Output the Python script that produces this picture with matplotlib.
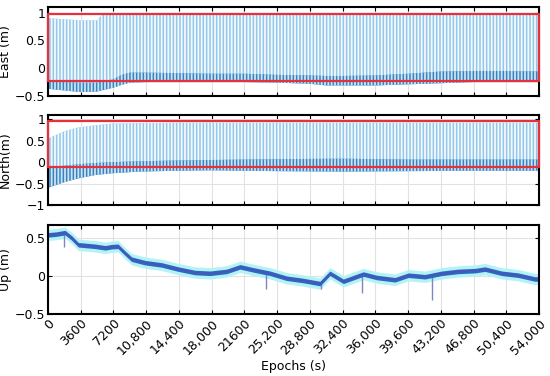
import matplotlib.pyplot as plt
import numpy as np

# ---- data ----
tick_pos = [0, 3600, 7200, 10800, 14400, 18000, 21600, 25200, 28800,
            32400, 36000, 39600, 43200, 46800, 50400, 54000]
tick_lab = ['0', '3600', '7200', '10,800', '14,400', '18,000', '21600', '25,200',
            '28,800', '32,400', '36,000', '39,600', '43,200', '46,800', '50,400', '54,000']

# East: envelope of the oscillation (top of spikes, bottom of spikes, top of dark band)
east_t = [0, 1800, 3600, 5400, 5900, 7200, 8100, 9000, 10800, 14400, 18000, 21600,
          25200, 28800, 30600, 32400, 36000, 39600, 43200, 46800, 50400, 54000]
east_hi = [0.90, 0.88, 0.86, 0.86, 0.96, 0.97, 0.97, 0.97, 0.97, 0.97, 0.97, 0.97,
           0.97, 0.97, 0.97, 0.97, 0.97, 0.97, 0.97, 0.97, 0.97, 0.97]
east_lo = [-0.37, -0.40, -0.43, -0.42, -0.40, -0.35, -0.30, -0.26, -0.25, -0.25, -0.25, -0.25,
           -0.26, -0.28, -0.31, -0.31, -0.31, -0.29, -0.27, -0.25, -0.25, -0.25]
east_dk = [-0.24, -0.25, -0.26, -0.26, -0.24, -0.20, -0.12, -0.08, -0.08, -0.09, -0.10, -0.10,
           -0.12, -0.13, -0.14, -0.14, -0.13, -0.10, -0.06, -0.05, -0.05, -0.06]
east_box = (-0.23, 0.97)

north_t = [0, 400, 1900, 3300, 5200, 7000, 10000, 14400, 18000, 25200, 32400,
           39600, 46800, 54000]
north_hi = [0.55, 0.59, 0.73, 0.81, 0.86, 0.90, 0.91, 0.92, 0.92, 0.92, 0.92,
            0.92, 0.92, 0.92]
north_lo = [-0.60, -0.57, -0.46, -0.38, -0.30, -0.26, -0.22, -0.20, -0.19, -0.21, -0.22,
            -0.21, -0.20, -0.20]
north_dk = [-0.12, -0.11, -0.08, -0.05, -0.02, 0.00, 0.02, 0.04, 0.05, 0.07, 0.08,
            0.06, 0.06, 0.06]
north_box = (-0.11, 0.97)

up_t = [0, 900, 1870, 2600, 3340, 5170, 6300, 7000, 7700, 8470, 9200, 10670, 12500,
        14330, 16170, 17820, 19650, 21120, 22580, 24420, 26250, 28080, 29920, 31010,
        32480, 34680, 36150, 38160, 39630, 41460, 43300, 45130, 46960, 48060, 49900,
        51720, 53560, 54000]
up_v = [0.54, 0.55, 0.57, 0.50, 0.41, 0.39, 0.37, 0.385, 0.39, 0.30, 0.22, 0.175, 0.145,
        0.09, 0.045, 0.035, 0.06, 0.12, 0.08, 0.035, -0.03, -0.06, -0.10, 0.035,
        -0.07, 0.025, -0.02, -0.05, 0.01, -0.01, 0.035, 0.06, 0.07, 0.09, 0.035,
        0.01, -0.04, -0.04]
up_spike_t = [1800, 24000, 30000, 34500, 42200]
up_spike_lo = [0.38, -0.17, -0.17, -0.22, -0.31]
up_spike_hi = [0.55, 0.03, -0.08, 0.02, -0.01]

light = '#93c7e9'
dark = '#3584c2'
red = '#e8303c'

plt.rcParams['hatch.linewidth'] = 1.3
fig = plt.figure(figsize=(5.5, 3.76), dpi=100)
W = 491 / 550
L = 48 / 550
ax1 = fig.add_axes([L, 1 - 96 / 376, W, 89 / 376])
ax2 = fig.add_axes([L, 1 - 205 / 376, W, 90 / 376])
ax3 = fig.add_axes([L, 1 - 314 / 376, W, 89 / 376])


def osc(ax, t, hi, lo, dk, box):
    ax.fill_between(t, lo, hi, facecolor=light, edgecolor='#f4f9fd', hatch='|||||',
                    linewidth=0, zorder=2)
    ax.fill_between(t, lo, dk, facecolor=dark, edgecolor='#cfe3f2', hatch='|||||',
                    linewidth=0, zorder=2.1)
    ax.plot([0, 54000, 54000, 0, 0], [box[0], box[0], box[1], box[1], box[0]],
            color=red, lw=1.6, zorder=3, clip_on=False)


osc(ax1, east_t, east_hi, east_lo, east_dk, east_box)
osc(ax2, north_t, north_hi, north_lo, north_dk, north_box)

up_v = np.array(up_v)
ax3.fill_between(up_t, up_v - 0.075, up_v + 0.075, color='#b4f3f5', lw=0, zorder=2)
ax3.vlines(up_spike_t, up_spike_lo, up_spike_hi, color='#7c86c4', lw=1.0, zorder=2.2)
ax3.fill_between(up_t, up_v - 0.03, up_v + 0.03, color='#2f66c4', lw=0, zorder=2.3)
ax3.plot(up_t, up_v, color='#4a55b5', lw=1.0, zorder=2.4)

for ax in (ax1, ax2, ax3):
    ax.set_xlim(0, 54000)
    ax.set_xticks(tick_pos)
    ax.grid(True, color='#e2e2e2', lw=0.8, zorder=0)
    ax.set_axisbelow(True)
    ax.tick_params(direction='in', top=True, right=True, length=3, width=0.8,
                   labelsize=9, pad=2)
    for s in ax.spines.values():
        s.set_linewidth(1.5)

ax1.set_ylim(-0.5, 1.1)
ax1.set_yticks([-0.5, 0, 0.5, 1])
ax1.set_yticklabels(['\u22120.5', '0', '0.5', '1'])
ax1.set_xticklabels([])
ax1.set_ylabel('East (m)', fontsize=9, labelpad=2)

ax2.set_ylim(-1, 1.1)
ax2.set_yticks([-1, -0.5, 0, 0.5, 1])
ax2.set_yticklabels(['\u22121', '\u22120.5', '0', '0.5', '1'])
ax2.set_xticklabels([])
ax2.set_ylabel('North(m)', fontsize=9, labelpad=2)

ax3.set_ylim(-0.5, 0.67)
ax3.set_yticks([-0.5, 0, 0.5])
ax3.set_yticklabels(['\u22120.5', '0', '0.5'])
ax3.set_xticklabels(tick_lab, rotation=45, ha='right', rotation_mode='anchor')
ax3.set_ylabel('Up (m)', fontsize=9, labelpad=2)
ax3.set_xlabel('Epochs (s)', fontsize=9, labelpad=2)

fig.savefig('out.png', dpi=100)
